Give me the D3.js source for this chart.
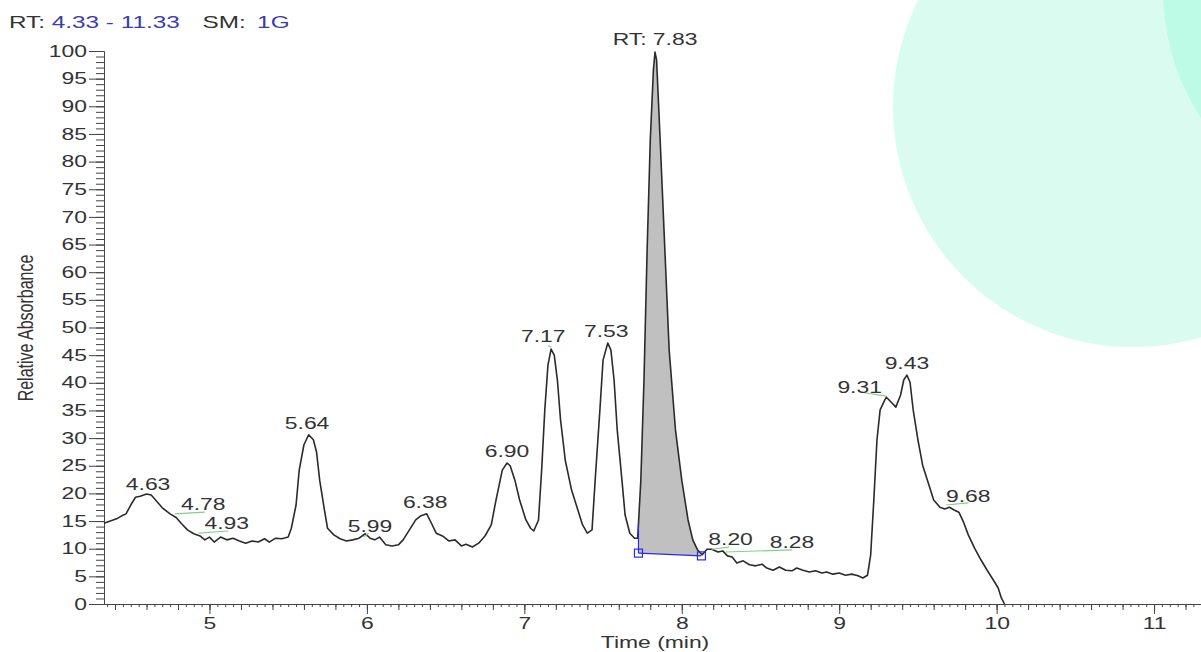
<!DOCTYPE html>
<html lang="en">
<head>
<meta charset="utf-8">
<title>Chromatogram</title>
<script src="https://cdn.jsdelivr.net/npm/d3@7"></script>
<style>
  html, body { margin: 0; padding: 0; background: #fff; overflow: hidden; }
  svg text { font-family: "Liberation Sans", Arial, sans-serif; fill: #333; }
  .axis path, .axis line { stroke: #444; stroke-width: 1; }
</style>
</head>
<body>
<div id="chart"></div>
<script>
// trace: retention time (min) and relative absorbance
var times = [4.33,4.37,4.41,4.44,4.47,4.50,4.53,4.56,4.60,4.63,4.67,4.70,4.75,4.79,4.82,4.86,4.90,4.94,4.97,5.00,
  5.03,5.07,5.11,5.15,5.19,5.23,5.27,5.31,5.35,5.38,5.42,5.46,5.50,5.52,5.55,5.57,5.60,5.63,5.66,5.68,
  5.70,5.73,5.75,5.79,5.83,5.87,5.91,5.95,5.99,6.02,6.05,6.08,6.12,6.16,6.20,6.23,6.27,6.31,6.34,6.38,
  6.41,6.44,6.48,6.52,6.56,6.60,6.63,6.67,6.71,6.75,6.79,6.82,6.86,6.89,6.91,6.94,6.97,7.01,7.04,7.06,
  7.09,7.11,7.13,7.15,7.17,7.19,7.21,7.23,7.26,7.30,7.34,7.37,7.40,7.43,7.45,7.48,7.50,7.53,7.55,7.57,
  7.59,7.62,7.64,7.67,7.70,7.72,7.74,7.76,7.78,7.80,7.82,7.83,7.84,7.86,7.89,7.92,7.96,8.00,8.04,8.07,
  8.10,8.13,8.16,8.19,8.23,8.26,8.29,8.32,8.35,8.39,8.43,8.47,8.51,8.54,8.58,8.62,8.66,8.70,8.73,8.77,
  8.81,8.85,8.89,8.92,8.96,9.00,9.04,9.08,9.12,9.15,9.18,9.20,9.22,9.24,9.26,9.29,9.30,9.34,9.36,9.39,
  9.41,9.43,9.45,9.47,9.50,9.53,9.57,9.60,9.64,9.67,9.70,9.73,9.76,9.79,9.82,9.86,9.90,9.94,9.98,10.01,
  10.03,10.05];
var absorbance = [14.6,15.0,15.4,15.9,16.3,17.9,19.3,19.5,19.9,19.7,18.4,17.4,16.3,15.6,14.6,13.4,12.7,12.3,11.6,12.1,
  11.2,12.1,11.6,11.9,11.4,11.0,11.4,11.2,11.8,11.2,11.9,11.8,12.1,13.7,17.9,24.2,28.8,30.6,29.7,27.5,
  22.4,17.0,13.7,12.5,11.8,11.4,11.6,11.9,12.7,11.9,11.6,12.1,10.7,10.5,10.7,11.6,13.4,15.2,15.9,16.3,
  14.6,12.8,12.3,11.4,11.6,10.5,10.8,10.3,11.0,12.3,14.3,18.8,24.2,25.5,25.0,22.4,18.8,15.2,13.7,13.2,
  15.2,24.2,35.1,43.2,46.1,45.0,40.5,33.3,26.0,20.6,17.0,14.3,12.8,13.4,22.4,35.1,44.1,47.2,45.9,40.5,
  31.5,22.4,16.1,12.8,11.9,11.9,22.4,40.5,64.0,83.9,96.6,99.8,98.4,85.7,65.8,45.9,31.5,22.4,15.2,11.6,
  9.8,8.9,9.9,9.9,9.4,9.6,8.7,8.5,7.4,7.8,7.1,6.9,7.2,6.5,6.1,6.7,6.1,6.0,6.5,6.1,
  5.8,6.0,5.6,5.8,5.4,5.6,5.2,5.4,5.1,4.7,5.2,8.9,18.8,29.7,35.1,36.9,37.4,36.2,35.6,37.8,
  40.5,41.4,40.1,35.1,29.7,25.1,21.5,18.8,17.5,17.2,17.5,17.0,16.6,14.8,12.5,10.1,8.0,6.1,4.3,2.9,
  1.1,0];

// peak annotations (text anchor in data units)
var peakLabels = ["4.63","4.78","4.93","5.64","5.99","6.38","6.90","7.17","7.53","RT: 7.83","8.20","8.28","9.31","9.43","9.68"];
var labelTimes = [4.61,4.96,5.11,5.62,6.02,6.37,6.89,7.12,7.52,7.83,8.31,8.70,9.13,9.43,9.82];
var labelValues = [20.6,17.0,13.6,31.6,13.0,17.4,26.6,47.4,48.3,101.1,10.7,10.1,38.2,42.5,18.4];

// green leader lines
var leaderT0 = [4.78,4.93,5.98,7.15,8.19,8.28,9.16,9.68];
var leaderV0 = [16.3,12.8,12.1,46.7,9.9,9.4,38.2,17.9];
var leaderT1 = [4.97,5.12,6.01,7.17,8.30,8.70,9.30,9.82];
var leaderV1 = [16.6,13.2,12.8,46.5,10.3,9.8,37.6,18.3];

// integration baseline of the main peak
var baseTimes = [7.725, 8.125];
var baseValues = [9.2, 8.7];

var xMajor = [5, 6, 7, 8, 9, 10, 11];
var yMajor = [0,5,10,15,20,25,30,35,40,45,50,55,60,65,70,75,80,85,90,95,100];

var W = 1201, H = 652;
var sx = 1.43;  // text in the reference is stretched horizontally

var svg = d3.select("#chart").append("svg")
  .attr("width", W).attr("height", H);

// background decoration circles
svg.append("circle").attr("cx", 1133).attr("cy", 107).attr("r", 240).attr("fill", "#dafcf0");
svg.append("circle").attr("cx", 1398).attr("cy", -10).attr("r", 235).attr("fill", "#bdfbe6");

var x = d3.scaleLinear().domain([4.33, 11.33]).range([104, 1206]);
var y = d3.scaleLinear().domain([0, 100]).range([604, 51]);

var trace = times.map(function(t, i){ return {t: t, v: absorbance[i]}; });

// interpolate the trace at a time
function traceAt(t){
  for (var i = 1; i < trace.length; i++){
    if (trace[i].t >= t){
      var a = trace[i-1], b = trace[i];
      return a.v + (b.v - a.v) * (t - a.t) / (b.t - a.t);
    }
  }
  return trace[trace.length-1].v;
}
function baseAt(t){
  return baseValues[0] + (baseValues[1]-baseValues[0]) * (t-baseTimes[0]) / (baseTimes[1]-baseTimes[0]);
}

// shaded peak area
var areaPts = [{t: baseTimes[0], v: traceAt(baseTimes[0])}]
  .concat(trace.filter(function(d){ return d.t > baseTimes[0] && d.t < baseTimes[1]; }))
  .concat([{t: baseTimes[1], v: traceAt(baseTimes[1])}]);

svg.append("path")
  .datum(areaPts)
  .attr("fill", "#c0c0c0")
  .attr("d", d3.area()
    .x(function(d){ return x(d.t); })
    .y0(function(d){ return y(baseAt(d.t)); })
    .y1(function(d){ return y(Math.max(d.v, baseAt(d.t))); }));

// axes
svg.append("g").attr("class", "axis")
  .attr("transform", "translate(104,0)")
  .call(d3.axisLeft(y).tickValues(d3.range(0, 101, 1)).tickSize(8).tickSizeOuter(0).tickFormat(""));

var yAxis = svg.append("g").attr("class", "axis")
  .attr("transform", "translate(104,0)")
  .call(d3.axisLeft(y).tickValues(yMajor).tickSize(15).tickSizeOuter(0).tickPadding(2));
yAxis.selectAll("text")
  .attr("font-size", "16px").attr("fill", "#333")
  .attr("font-family", "Liberation Sans, Arial, sans-serif")
  .attr("x", -17 / sx)
  .attr("transform", "scale(" + sx + ",1)");

var xMinorVals = d3.range(87, 227).map(function(i){ return i * 0.05; });
svg.append("g").attr("class", "axis")
  .attr("transform", "translate(0,604)")
  .call(d3.axisBottom(x).tickValues(xMinorVals).tickSize(3).tickSizeOuter(0).tickFormat(""));
var xMidVals = d3.range(22, 57).map(function(i){ return i * 0.2; });
svg.append("g").attr("class", "axis")
  .attr("transform", "translate(0,604)")
  .call(d3.axisBottom(x).tickValues(xMidVals).tickSize(6).tickSizeOuter(0).tickFormat(""));
var xAxis = svg.append("g").attr("class", "axis")
  .attr("transform", "translate(0,604)")
  .call(d3.axisBottom(x).tickValues(xMajor).tickSize(10).tickSizeOuter(0).tickPadding(4).tickFormat(d3.format("d")));
xAxis.selectAll("text")
  .attr("font-size", "16px").attr("fill", "#333")
  .attr("font-family", "Liberation Sans, Arial, sans-serif")
  .attr("transform", "scale(" + sx + ",1)");
svg.selectAll(".axis .domain").attr("stroke", "#444");
// x axis line runs to the right edge
svg.append("line").attr("x1", 104).attr("x2", W).attr("y1", 604.5).attr("y2", 604.5).attr("stroke", "#444");

// trace line
svg.append("path")
  .datum(trace)
  .attr("fill", "none")
  .attr("stroke", "#2b2b2b")
  .attr("stroke-width", 1.6)
  .attr("stroke-linejoin", "round")
  .attr("d", d3.line().x(function(d){ return x(d.t); }).y(function(d){ return y(d.v); }));

// baseline + markers
svg.append("line")
  .attr("x1", x(baseTimes[0])).attr("y1", y(baseValues[0]))
  .attr("x2", x(baseTimes[1])).attr("y2", y(baseValues[1]))
  .attr("stroke", "#2a2ae8").attr("stroke-width", 1.2);
svg.append("line")
  .attr("x1", x(baseTimes[0])).attr("y1", y(baseValues[0]))
  .attr("x2", x(baseTimes[0])).attr("y2", y(traceAt(baseTimes[0])))
  .attr("stroke", "#2a2ae8").attr("stroke-width", 1.2);
svg.selectAll("rect.marker")
  .data(baseTimes)
  .enter().append("rect")
  .attr("class", "marker")
  .attr("x", function(d){ return x(d) - 4; })
  .attr("y", function(d, i){ return y(baseValues[i]) - 4; })
  .attr("width", 8).attr("height", 8)
  .attr("fill", "none").attr("stroke", "#2a2ae8").attr("stroke-width", 1.2);

// green leader lines
svg.selectAll("line.leader")
  .data(leaderT0)
  .enter().append("line")
  .attr("class", "leader")
  .attr("x1", function(d){ return x(d); })
  .attr("y1", function(d, i){ return y(leaderV0[i]); })
  .attr("x2", function(d, i){ return x(leaderT1[i]); })
  .attr("y2", function(d, i){ return y(leaderV1[i]); })
  .attr("stroke", "#84d084").attr("stroke-width", 1.2);

// peak labels
svg.selectAll("text.peak")
  .data(peakLabels)
  .enter().append("text")
  .attr("class", "peak")
  .attr("text-anchor", "middle")
  .attr("font-size", "16px")
  .attr("transform", function(d, i){
    return "translate(" + x(labelTimes[i]) + "," + y(labelValues[i]) + ") scale(" + sx + ",1)";
  })
  .text(function(d){ return d; });

// header
var head = svg.append("text")
  .attr("font-size", "16px")
  .attr("transform", "translate(9,28) scale(1.52,1)");
head.append("tspan").attr("fill", "#333").text("RT: ");
head.append("tspan").attr("fill", "#3b3bb3").text("4.33 - 11.33");
head.append("tspan").attr("fill", "#333").attr("dx", 15).text("SM: ");
head.append("tspan").attr("fill", "#3b3bb3").attr("dx", 3).text("1G");

// axis titles
svg.append("text")
  .attr("text-anchor", "middle")
  .attr("font-size", "16px")
  .attr("transform", "translate(33,328) scale(1.35,1) rotate(-90)")
  .text("Relative Absorbance");

svg.append("text")
  .attr("text-anchor", "middle")
  .attr("font-size", "16px")
  .attr("transform", "translate(655,648) scale(" + sx + ",1)")
  .text("Time (min)");
</script>
</body>
</html>
